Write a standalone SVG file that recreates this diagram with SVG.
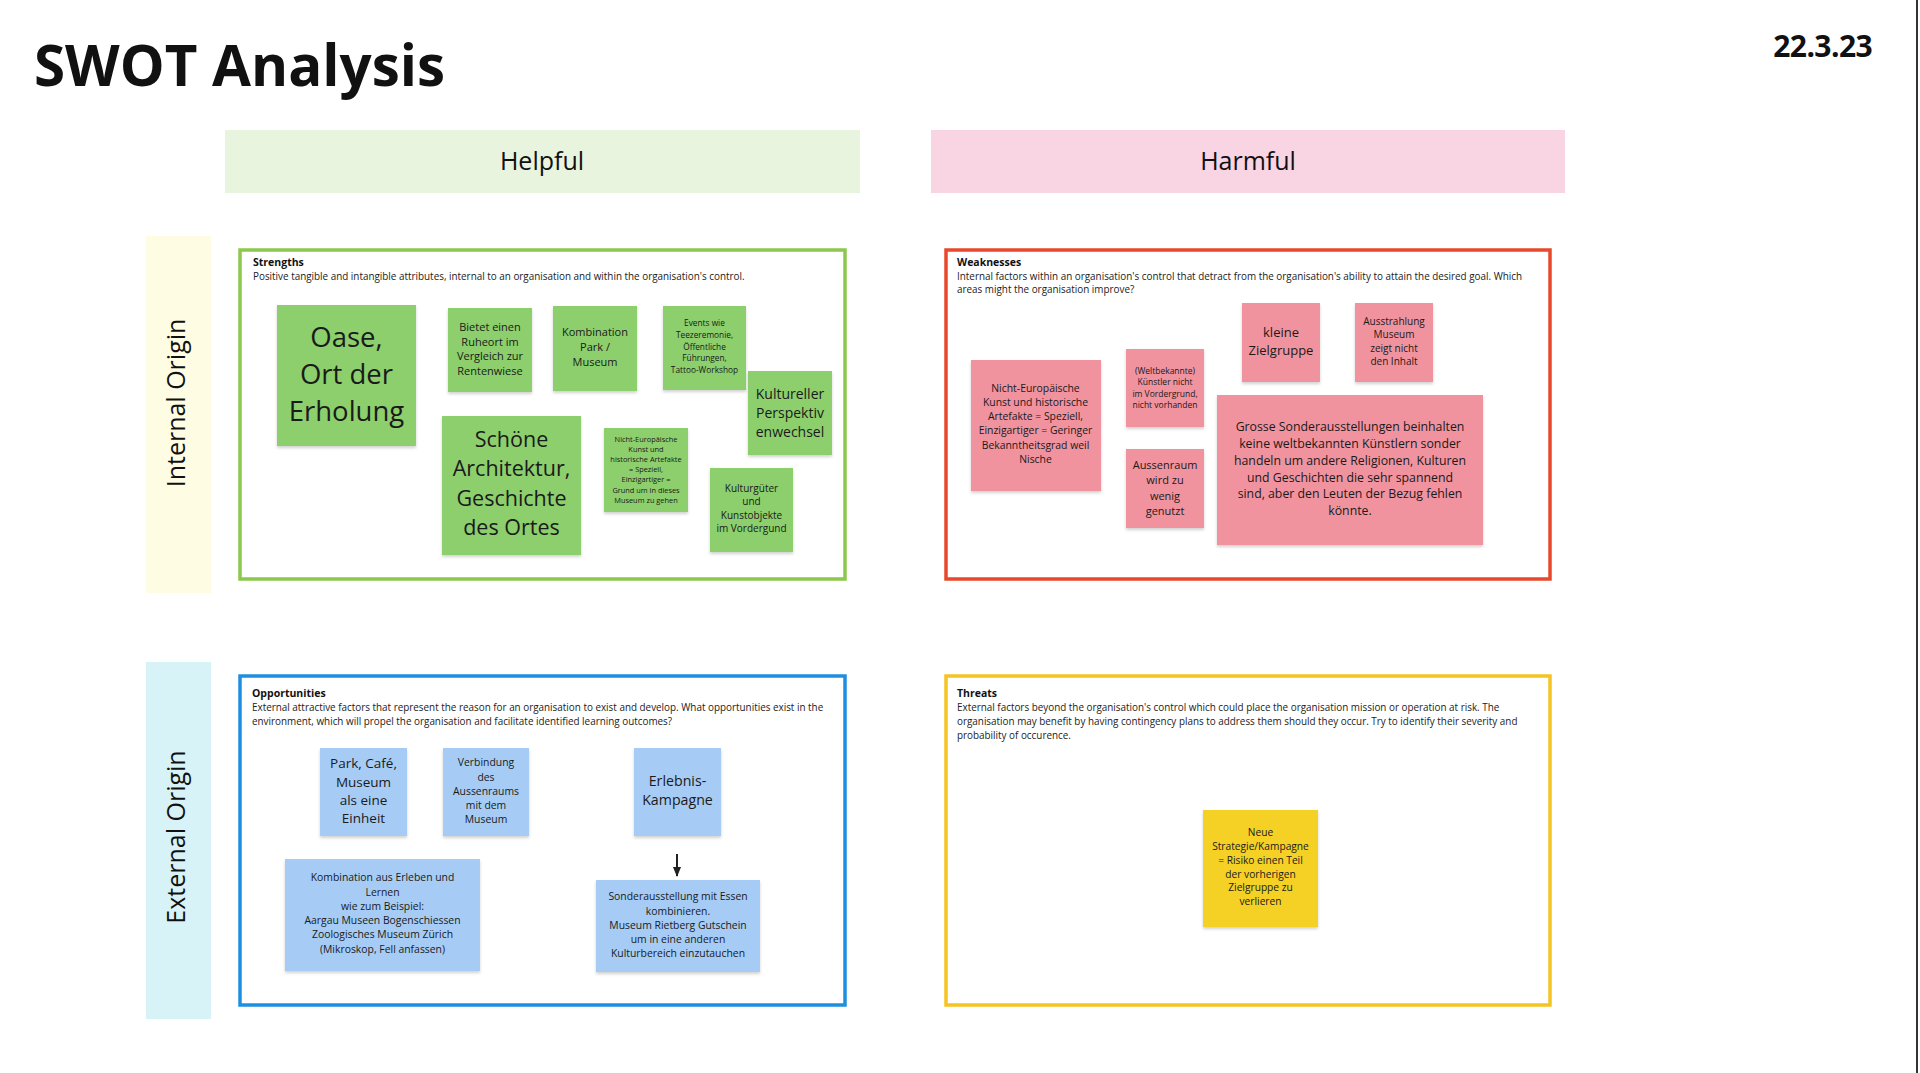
<svg xmlns="http://www.w3.org/2000/svg" width="1920" height="1073" viewBox="0 0 1920 1073">
<defs>
<style>
text{font-family:"Open Sans","Noto Sans","Liberation Sans",sans-serif;fill:#1a1a1a}
.title{font-size:56.5px;font-weight:700;fill:#111}
.date{font-size:30px;font-weight:700;fill:#111;letter-spacing:-0.6px}
.hdr{font-size:25px;text-anchor:middle;fill:#111}
.fh{font-size:10.5px;font-weight:700;fill:#111}
.fd{font-size:9.9px;fill:#222}
.frame{fill:#fff;stroke-width:3.5}
.n{text-anchor:middle}
.g{fill:#8ccf6c}
.p{fill:#f1939f}
.b{fill:#a6ccf5}
.y{fill:#f5d128}
</style>
<filter id="sh" x="-10%" y="-10%" width="120%" height="130%">
<feDropShadow dx="0" dy="2" stdDeviation="1.5" flood-color="#000" flood-opacity="0.18"/>
</filter>
<marker id="ah" markerWidth="10" markerHeight="8" refX="9" refY="4" orient="auto" markerUnits="userSpaceOnUse">
<path d="M0,0 L10,4 L0,8 Z" fill="#222"/>
</marker>
</defs>
<rect width="1920" height="1073" fill="#fff"/>
<rect x="1916" y="0" width="2" height="1073" fill="#333"/>

<g id="title"><text class="title" x="34" y="86">SWOT Analysis</text></g>
<g id="date"><text class="date" x="1872" y="57" text-anchor="end">22.3.23</text></g>

<g id="helpful"><rect x="225" y="130" width="635" height="63" fill="#e9f4de"/><text class="hdr" x="542" y="170">Helpful</text></g>
<g id="harmful"><rect x="931" y="130" width="634" height="63" fill="#f9d4e3"/><text class="hdr" x="1248" y="170">Harmful</text></g>
<g id="internal"><rect x="146" y="236" width="65" height="357" fill="#fefde4"/><text class="hdr" transform="translate(185,403) rotate(-90)" x="0" y="0">Internal Origin</text></g>
<g id="external"><rect x="146" y="662" width="65" height="357" fill="#d8f3f7"/><text class="hdr" transform="translate(185,837) rotate(-90)" x="0" y="0">External Origin</text></g>

<g id="strengths">
<rect class="frame" x="240" y="250" width="605" height="329" stroke="#8cc84b"/>
<text class="fh" x="253" y="266">Strengths</text>
<text class="fd" x="253" y="279.5">Positive tangible and intangible attributes, internal to an organisation and within the organisation's control.</text>
</g>
<g id="weaknesses">
<rect class="frame" x="946" y="250" width="604" height="329" stroke="#e8492d"/>
<text class="fh" x="957" y="266">Weaknesses</text>
<text class="fd" x="957" y="279.5">Internal factors within an organisation's control that detract from the organisation's ability to attain the desired goal. Which</text>
<text class="fd" x="957" y="293.3">areas might the organisation improve?</text>
</g>
<g id="opportunities">
<rect class="frame" x="240" y="676" width="605" height="329" stroke="#1e8fe0"/>
<text class="fh" x="252" y="697">Opportunities</text>
<text class="fd" x="252" y="711">External attractive factors that represent the reason for an organisation to exist and develop. What opportunities exist in the</text>
<text class="fd" x="252" y="725">environment, which will propel the organisation and facilitate identified learning outcomes?</text>
</g>
<g id="threats">
<rect class="frame" x="946" y="676" width="604" height="329" stroke="#f5c422"/>
<text class="fh" x="957" y="697">Threats</text>
<text class="fd" x="957" y="711">External factors beyond the organisation's control which could place the organisation mission or operation at risk. The</text>
<text class="fd" x="957" y="725">organisation may benefit by having contingency plans to address them should they occur. Try to identify their severity and</text>
<text class="fd" x="957" y="739">probability of occurence.</text>
</g>

<g id="s-oase"><rect class="g" x="277" y="305" width="139" height="141" filter="url(#sh)"/>
<text class="n" x="346.5" y="347" font-size="27.5"><tspan x="346.5">Oase,</tspan><tspan x="346.5" y="384">Ort der</tspan><tspan x="346.5" y="421">Erholung</tspan></text></g>
<g id="s-ruheort"><rect class="g" x="448" y="308" width="84" height="84" filter="url(#sh)"/>
<text class="n" x="490" y="331" font-size="11"><tspan x="490">Bietet einen</tspan><tspan x="490" y="345.7">Ruheort im</tspan><tspan x="490" y="360.4">Vergleich zur</tspan><tspan x="490" y="375.1">Rentenwiese</tspan></text></g>
<g id="s-kombination"><rect class="g" x="553" y="306" width="84" height="85" filter="url(#sh)"/>
<text class="n" x="595" y="336" font-size="11"><tspan x="595">Kombination</tspan><tspan x="595" y="351">Park /</tspan><tspan x="595" y="366">Museum</tspan></text></g>
<g id="s-events"><rect class="g" x="663" y="306" width="83" height="84" filter="url(#sh)"/>
<text class="n" x="704.5" y="326" font-size="8.3"><tspan x="704.5">Events wie</tspan><tspan x="704.5" y="337.7">Teezeremonie,</tspan><tspan x="704.5" y="349.5">Öffentliche</tspan><tspan x="704.5" y="361.2">Führungen,</tspan><tspan x="704.5" y="373">Tattoo-Workshop</tspan></text></g>
<g id="s-perspektiv"><rect class="g" x="748" y="371" width="84" height="84" filter="url(#sh)"/>
<text class="n" x="790" y="399" font-size="14"><tspan x="790">Kultureller</tspan><tspan x="790" y="418">Perspektiv</tspan><tspan x="790" y="437">enwechsel</tspan></text></g>
<g id="s-nichteuropaeisch"><rect class="g" x="604" y="428" width="84" height="84" filter="url(#sh)"/>
<text class="n" x="646" y="442" font-size="7.4"><tspan x="646">Nicht-Europäische</tspan><tspan x="646" y="452.1">Kunst und</tspan><tspan x="646" y="462.2">historische Artefakte</tspan><tspan x="646" y="472.3">= Speziell,</tspan><tspan x="646" y="482.4">Einzigartiger =</tspan><tspan x="646" y="492.5">Grund um in dieses</tspan><tspan x="646" y="502.6">Museum zu gehen</tspan></text></g>
<g id="s-kulturgueter"><rect class="g" x="710" y="468" width="83" height="84" filter="url(#sh)"/>
<text class="n" x="751.5" y="491.6" font-size="10"><tspan x="751.5">Kulturgüter</tspan><tspan x="751.5" y="505.2">und</tspan><tspan x="751.5" y="518.8">Kunstobjekte</tspan><tspan x="751.5" y="532.4">im Vordergund</tspan></text></g>
<g id="s-architektur"><rect class="g" x="442" y="416" width="139" height="139" filter="url(#sh)"/>
<text class="n" x="511.5" y="446.7" font-size="21.5"><tspan x="511.5">Schöne</tspan><tspan x="511.5" y="476.1">Architektur,</tspan><tspan x="511.5" y="505.5">Geschichte</tspan><tspan x="511.5" y="534.9">des Ortes</tspan></text></g>

<g id="w-nische"><rect class="p" x="971" y="360" width="130" height="131" filter="url(#sh)"/>
<text class="n" x="1035.5" y="391.7" font-size="10.4"><tspan x="1035.5">Nicht-Europäische</tspan><tspan x="1035.5" y="405.9">Kunst und historische</tspan><tspan x="1035.5" y="420.1">Artefakte = Speziell,</tspan><tspan x="1035.5" y="434.3">Einzigartiger = Geringer</tspan><tspan x="1035.5" y="448.5">Bekanntheitsgrad weil</tspan><tspan x="1035.5" y="462.7">Nische</tspan></text></g>
<g id="w-kuenstler"><rect class="p" x="1126" y="349" width="78" height="78" filter="url(#sh)"/>
<text class="n" x="1165" y="373.5" font-size="8.5"><tspan x="1165">(Weltbekannte)</tspan><tspan x="1165" y="385.1">Künstler nicht</tspan><tspan x="1165" y="396.7">im Vordergrund,</tspan><tspan x="1165" y="408.3">nicht vorhanden</tspan></text></g>
<g id="w-aussenraum"><rect class="p" x="1126" y="449" width="78" height="79" filter="url(#sh)"/>
<text class="n" x="1165" y="469" font-size="11"><tspan x="1165">Aussenraum</tspan><tspan x="1165" y="484">wird zu</tspan><tspan x="1165" y="499.7">wenig</tspan><tspan x="1165" y="514.7">genutzt</tspan></text></g>
<g id="w-zielgruppe"><rect class="p" x="1242" y="303" width="78" height="79" filter="url(#sh)"/>
<text class="n" x="1281" y="337.4" font-size="13"><tspan x="1281">kleine</tspan><tspan x="1281" y="355">Zielgruppe</tspan></text></g>
<g id="w-ausstrahlung"><rect class="p" x="1355" y="303" width="78" height="79" filter="url(#sh)"/>
<text class="n" x="1394" y="324.6" font-size="10"><tspan x="1394">Ausstrahlung</tspan><tspan x="1394" y="338.2">Museum</tspan><tspan x="1394" y="351.8">zeigt nicht</tspan><tspan x="1394" y="365.4">den Inhalt</tspan></text></g>
<g id="w-sonderausstellungen"><rect class="p" x="1217" y="395" width="266" height="150" filter="url(#sh)"/>
<text class="n" x="1350" y="431.1" font-size="12.3"><tspan x="1350">Grosse Sonderausstellungen beinhalten</tspan><tspan x="1350" y="447.9">keine weltbekannten Künstlern sonder</tspan><tspan x="1350" y="464.7">handeln um andere Religionen, Kulturen</tspan><tspan x="1350" y="481.5">und Geschichten die sehr spannend</tspan><tspan x="1350" y="498.3">sind, aber den Leuten der Bezug fehlen</tspan><tspan x="1350" y="515.1">könnte.</tspan></text></g>

<g id="o-einheit"><rect class="b" x="320" y="748" width="87" height="88" filter="url(#sh)"/>
<text class="n" x="363.5" y="768.2" font-size="13.5"><tspan x="363.5">Park, Café,</tspan><tspan x="363.5" y="786.5">Museum</tspan><tspan x="363.5" y="804.9">als eine</tspan><tspan x="363.5" y="823.2">Einheit</tspan></text></g>
<g id="o-verbindung"><rect class="b" x="443" y="748" width="86" height="88" filter="url(#sh)"/>
<text class="n" x="486" y="766.4" font-size="10.4"><tspan x="486">Verbindung</tspan><tspan x="486" y="780.5">des</tspan><tspan x="486" y="794.6">Aussenraums</tspan><tspan x="486" y="808.7">mit dem</tspan><tspan x="486" y="822.8">Museum</tspan></text></g>
<g id="o-erleben"><rect class="b" x="285" y="859" width="195" height="112" filter="url(#sh)"/>
<text class="n" x="382.5" y="881.4" font-size="10.4"><tspan x="382.5">Kombination aus Erleben und</tspan><tspan x="382.5" y="895.7">Lernen</tspan><tspan x="382.5" y="909.9">wie zum Beispiel:</tspan><tspan x="382.5" y="924.2">Aargau Museen Bogenschiessen</tspan><tspan x="382.5" y="938.4">Zoologisches Museum Zürich</tspan><tspan x="382.5" y="952.7">(Mikroskop, Fell anfassen)</tspan></text></g>
<g id="o-kampagne"><rect class="b" x="634" y="748" width="87" height="88" filter="url(#sh)"/>
<text class="n" x="677.5" y="785.6" font-size="14.2"><tspan x="677.5">Erlebnis-</tspan><tspan x="677.5" y="804.9">Kampagne</tspan></text></g>
<g id="o-sonderausstellung"><rect class="b" x="596" y="880" width="164" height="92" filter="url(#sh)"/>
<text class="n" x="678" y="900.4" font-size="10.4"><tspan x="678">Sonderausstellung mit Essen</tspan><tspan x="678" y="914.6">kombinieren.</tspan><tspan x="678" y="928.7">Museum Rietberg Gutschein</tspan><tspan x="678" y="942.9">um in eine anderen</tspan><tspan x="678" y="957">Kulturbereich einzutauchen</tspan></text></g>

<g id="t-strategie"><rect class="y" x="1203" y="810" width="115" height="117" filter="url(#sh)"/>
<text class="n" x="1260.5" y="835.8" font-size="10.2"><tspan x="1260.5">Neue</tspan><tspan x="1260.5" y="849.7">Strategie/Kampagne</tspan><tspan x="1260.5" y="863.6">= Risiko einen Teil</tspan><tspan x="1260.5" y="877.5">der vorherigen</tspan><tspan x="1260.5" y="891.4">Zielgruppe zu</tspan><tspan x="1260.5" y="905.3">verlieren</tspan></text></g>

<g id="connectors">
<line x1="677" y1="854" x2="677" y2="876" stroke="#222" stroke-width="2" marker-end="url(#ah)"/>
</g>
</svg>
